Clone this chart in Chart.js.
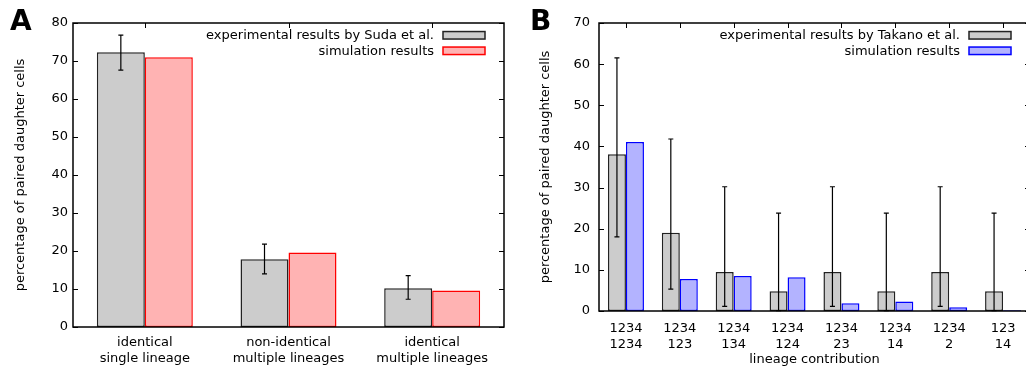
<!DOCTYPE html>
<html><head><meta charset="utf-8">
<script src="https://cdn.jsdelivr.net/npm/chart.js@4/dist/chart.umd.min.js"></script>
<style>
html,body{margin:0;padding:0;background:#fff;}
body{width:1026px;height:371px;overflow:hidden;position:relative;font-family:'DejaVu Sans',sans-serif;}
#wa{position:absolute;left:0;top:0;width:513px;height:371px;}
#wb{position:absolute;left:513px;top:0;width:513px;height:371px;overflow:hidden;}
.pl{position:absolute;font:bold 28px 'DejaVu Sans',sans-serif;line-height:28px;color:#000;}
</style>
</head><body>
<div id="wa"><canvas id="ca" width="513" height="371"></canvas></div>
<div id="wb"><canvas id="cb" width="530" height="371"></canvas></div>
<div class="pl" style="left:10px;top:7px;">A</div>
<div class="pl" style="left:530px;top:7px;">B</div>
<script>
// ---- Panel A data ----
const catsA = [["identical","single lineage"],["non-identical","multiple lineages"],["identical","multiple lineages"]];
const expA = [72.3, 17.8, 10.2];
const expALow = [67.6, 14.0, 7.3];
const expAHigh = [76.8, 21.8, 13.5];
const simA = [71.0, 19.6, 9.6];
const ticksA = [0,10,20,30,40,50,60,70,80];

// ---- Panel B data ----
const catsB = [["1234","1234"],["1234","123"],["1234","134"],["1234","124"],["1234","23"],["1234","14"],["1234","2"],["123","14"]];
const expB = [38.1, 19.0, 9.5, 4.8, 9.5, 4.8, 9.5, 4.8];
const expBLow = [18.0, 5.3, 1.1, 0.1, 1.1, 0.1, 1.1, 0.1];
const expBHigh = [61.5, 41.8, 30.2, 23.8, 30.2, 23.8, 30.2, 23.8];
const simB = [41.1, 7.8, 8.5, 8.2, 1.9, 2.3, 0.9, 0.2];
const ticksB = [0,10,20,30,40,50,60,70];

const FONT = "'DejaVu Sans', sans-serif";
Chart.defaults.font.family = FONT;
Chart.defaults.font.size = 13;
Chart.defaults.color = '#000';

const framePlugin = {
  id: 'frame',
  afterDatasetsDraw(chart, args, opts) {
    const ctx = chart.ctx, a = chart.chartArea;
    const ys = chart.scales.y, xs = chart.scales.x;
    ctx.save();
    // error bars on experimental series
    const meta = chart.getDatasetMeta(0);
    ctx.strokeStyle = '#000';
    ctx.lineWidth = 1.2;
    meta.data.forEach((bar, i) => {
      const x = bar.x;
      const y1 = ys.getPixelForValue(opts.low[i]);
      const y2 = ys.getPixelForValue(opts.high[i]);
      ctx.beginPath();
      ctx.moveTo(x, y1); ctx.lineTo(x, y2);
      ctx.moveTo(x - opts.cap, y1); ctx.lineTo(x + opts.cap, y1);
      ctx.moveTo(x - opts.cap, y2); ctx.lineTo(x + opts.cap, y2);
      ctx.stroke();
    });
    // border box
    ctx.lineWidth = 1.5;
    ctx.strokeStyle = '#000';
    ctx.strokeRect(a.left, a.top, a.right - a.left, a.bottom - a.top);
    // inward ticks
    ctx.lineWidth = 1;
    ctx.beginPath();
    ys.ticks.forEach(t => {
      const y = Math.round(ys.getPixelForValue(t.value)) + 0.5;
      ctx.moveTo(a.left, y); ctx.lineTo(a.left + opts.tick, y);
      ctx.moveTo(a.right, y); ctx.lineTo(a.right - opts.tick, y);
    });
    xs.ticks.forEach((t, i) => {
      const x = Math.round(xs.getPixelForTick(i)) + 0.5;
      ctx.moveTo(x, a.top); ctx.lineTo(x, a.top + opts.tick);
    });
    ctx.stroke();
    // legend inside plot
    ctx.font = '13px ' + FONT;
    ctx.textAlign = 'right';
    ctx.textBaseline = 'middle';
    chart.data.datasets.forEach((ds, i) => {
      const cy = a.top + 12.3 + i * 15.5;
      ctx.fillStyle = '#000';
      ctx.fillText(ds.label, a.right - 70, cy + 0.5);
      ctx.fillStyle = ds.backgroundColor;
      ctx.fillRect(a.right - 61, cy - 3.75, 42, 7.5);
      ctx.strokeStyle = ds.borderColor;
      ctx.lineWidth = 1.5;
      ctx.strokeRect(a.right - 61, cy - 3.75, 42, 7.5);
    });
    ctx.restore();
  }
};

function makeChart(id, cats, exp, sim, low, high, ticks, maxY, expLabel, simBg, simBorder, geo) {
  return new Chart(document.getElementById(id), {
    type: 'bar',
    data: {
      labels: cats,
      datasets: [
        { label: expLabel, data: exp, backgroundColor: '#cccccc', borderColor: '#222222', borderWidth: 1.5, borderSkipped: false },
        { label: 'simulation results', data: sim, backgroundColor: simBg, borderColor: simBorder, borderWidth: 1.5, borderSkipped: false }
      ]
    },
    options: {
      responsive: false,
      animation: false,
      events: [],
      datasets: { bar: { categoryPercentage: 0.668, barPercentage: 1.0 } },
      layout: { padding: { left: 0, top: geo.top, right: geo.right, bottom: 0 } },
      scales: {
        x: {
          grid: { display: false, drawTicks: false },
          border: { display: false },
          ticks: { padding: geo.xpad, font: { size: 13 }, color: '#000', maxRotation: 0, autoSkip: false },
          title: geo.xtitle ? { display: true, text: geo.xtitle, font: { size: 13 }, color: '#000', padding: { top: 0, bottom: geo.xtpad } } : { display: false },
          afterFit(s) { s.height = geo.xh; s.paddingLeft = 0; s.paddingRight = 0; }
        },
        y: {
          min: 0, max: maxY,
          afterBuildTicks(s) { s.ticks = ticks.map(v => ({ value: v })); },
          grid: { display: false, drawTicks: false },
          border: { display: false },
          ticks: { padding: geo.ypad, font: { size: 13 }, color: '#000' },
          title: { display: true, text: 'percentage of paired daughter cells', font: { size: 13 }, color: '#000', padding: { top: geo.ytpad, bottom: 0 } },
          afterFit(s) { s.width = geo.yw; s.paddingTop = 0; s.paddingBottom = 0; }
        }
      },
      plugins: {
        legend: { display: false },
        tooltip: { enabled: false },
        frame: { low: low, high: high, cap: 2.5, tick: 5 }
      }
    },
    plugins: [framePlugin]
  });
}

makeChart('ca', catsA, expA, simA, expALow, expAHigh, ticksA, 80,
  'experimental results by Suda et al.', '#ffb3b3', '#ff0000',
  { top: 23, right: 9, xh: 44, yw: 73, xpad: 8, ypad: 5, ytpad: 13, });

makeChart('cb', catsB, expB, simB, expBLow, expBHigh, ticksB, 70,
  'experimental results by Takano et al.', '#b3b3ff', '#0000ff',
  { top: 23, right: 13, xh: 60, yw: 86, xpad: 10, ypad: 9, ytpad: 25, xtitle: 'lineage contribution', xtpad: 4 });
</script>
</body></html>
